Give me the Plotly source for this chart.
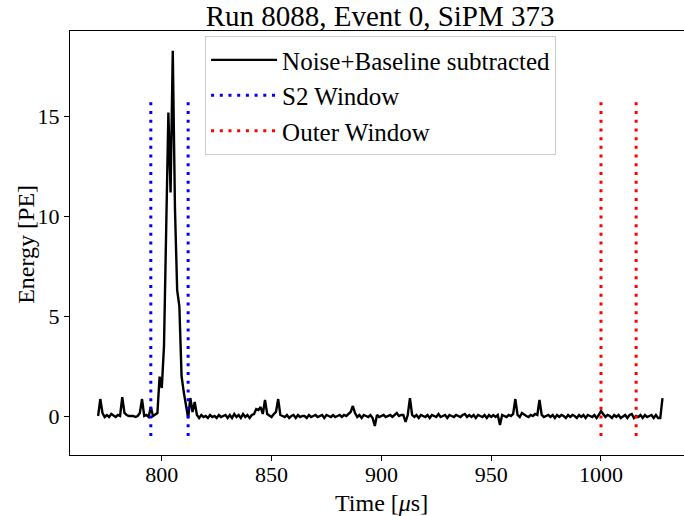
import plotly.graph_objects as go

# Sampling: one sample per microsecond
t_start_us = 771
t_stop_us = 1028

# Noise+baseline subtracted waveform [PE], one value per sample
energy_pe = [
    0.0, 0.85, 0.15, -0.05, 0.05, -0.05, 0.1, 0.0, -0.05, 0.05,        # 771-780
    0.0, 0.95, 0.15, 0.05, 0.0, 0.0, 0.0, -0.05, 0.0, 0.15,            # 781-790
    0.85, 0.0, 0.05, -0.05, 0.45, 0.0, 0.1, 0.15, 1.97, 1.4,           # 791-800
    3.5, 9.0, 15.2, 11.2, 18.3, 10.4, 6.3, 5.5, 2.0, 1.2,              # 801-810
    0.5, -0.1, 0.9, 0.2, 0.7, 0.05, -0.1, 0.05, -0.05, 0.0,            # 811-820
    -0.1, 0.05, -0.05, 0.0, -0.1, 0.05, -0.05, 0.0, 0.05, -0.1,        # 821-830
    0.05, -0.1, 0.1, -0.05, 0.05, -0.1, 0.1, -0.05, 0.05, -0.1,        # 831-840
    0.05, 0.1, 0.35, 0.3, 0.45, 0.1, 0.8, 0.1, 0.0, -0.05,             # 841-850
    0.1, 0.2, 0.85, 0.05, 0.0, -0.05, 0.05, -0.1, 0.0, 0.05,           # 851-860
    -0.1, 0.05, -0.05, 0.0, 0.0, -0.1, 0.05, -0.05, 0.0, 0.05,         # 861-870
    -0.05, 0.0, 0.05, -0.1, 0.05, 0.0, -0.05, 0.05, -0.05, 0.0,        # 871-880
    0.05, -0.05, 0.05, 0.0, 0.1, 0.2, 0.5, 0.15, -0.05, 0.05,          # 881-890
    -0.1, 0.05, 0.0, -0.05, 0.05, -0.1, -0.5, 0.05, -0.05, 0.0,        # 891-900
    0.05, -0.05, 0.0, 0.05, -0.05, 0.05, 0.15, 0.0, 0.05, 0.05,        # 901-910
    -0.3, 0.05, 0.9, 0.05, -0.05, 0.05, -0.1, 0.05, 0.0, -0.05,        # 911-920
    0.05, -0.1, 0.05, 0.0, -0.05, 0.1, -0.05, 0.0, 0.05, -0.1,         # 921-930
    0.05, 0.0, -0.05, 0.05, 0.0, -0.05, 0.05, 0.1, -0.05, 0.05,        # 931-940
    -0.05, 0.05, -0.1, 0.05, 0.0, -0.05, 0.05, -0.1, 0.05, -0.05,      # 941-950
    0.05, -0.05, 0.05, -0.45, 0.05, 0.0, -0.05, 0.05, 0.0, 0.1,        # 951-960
    0.85, 0.05, -0.05, 0.15, 0.05, 0.0, -0.05, 0.05, 0.0, 0.1,         # 961-970
    0.05, 0.8, 0.05, -0.05, 0.0, 0.05, -0.05, 0.05, -0.1, 0.05,        # 971-980
    -0.05, 0.05, 0.0, -0.1, 0.05, -0.05, 0.05, 0.0, -0.1, 0.05,        # 981-990
    -0.05, 0.05, -0.1, 0.05, 0.0, -0.05, 0.05, -0.1, 0.05, 0.25,       # 991-1000
    0.1, -0.05, 0.05, 0.0, -0.1, 0.05, -0.05, 0.05, -0.1, 0.0,         # 1001-1010
    0.05, -0.1, 0.05, 0.1, -0.1, 0.0, -0.05, 0.05, -0.1, 0.05,         # 1011-1020
    -0.05, 0.0, 0.05, -0.1, 0.05, -0.1, -0.1, 0.9,                     # 1021-1028
]
time_us = list(range(t_start_us, t_stop_us + 1))

# Integration windows [us] and the vertical extent of their markers [PE]
s2_window = [795, 812]
outer_window = [1000, 1016]
window_span = [-1, 16]

x_ticks = [800, 850, 900, 950, 1000]
y_ticks = [0, 5, 10, 15]

SERIF = "Liberation Serif"


def window_lines(edges):
    xs, ys = [], []
    for e in edges:
        xs += [e, e, None]
        ys += [window_span[0], window_span[1], None]
    return xs, ys


fig = go.Figure()
fig.add_trace(go.Scatter(
    x=time_us, y=energy_pe, mode="lines",
    line=dict(color="black", width=2.4),
    name="Noise+Baseline subtracted", legendgroup="a",
))
sx, sy = window_lines(s2_window)
fig.add_trace(go.Scatter(
    x=sx, y=sy, mode="lines",
    line=dict(color="#0000ff", width=3, dash="3px,5.7px"),
    name="S2 Window", legendgroup="b",
))
ox, oy = window_lines(outer_window)
fig.add_trace(go.Scatter(
    x=ox, y=oy, mode="lines",
    line=dict(color="#ff0000", width=3, dash="3px,5.7px"),
    name="Outer Window", legendgroup="c",
))

fig.update_layout(
    width=684, height=516,
    margin=dict(l=70, r=0, t=31, b=61),
    paper_bgcolor="white", plot_bgcolor="white",
    font=dict(family=SERIF, size=22, color="black"),
    title=dict(
        text="Run 8088, Event 0, SiPM 373",
        font=dict(family=SERIF, size=29, color="black"),
        x=0.505, xref="paper", xanchor="center",
        y=1 - 16 / 516, yref="container", yanchor="middle",
    ),
    legend=dict(
        x=0.22, y=0.988, xanchor="left", yanchor="top",
        bgcolor="white", bordercolor="#cccccc", borderwidth=1,
        font=dict(family=SERIF, size=25, color="black"),
        tracegroupgap=0, itemwidth=66,
    ),
    showlegend=True,
    annotations=[
        dict(text="Time [<i>μ</i>s]", xref="paper", yref="paper",
             x=0.507, y=-0.1132, xanchor="center", yanchor="middle",
             showarrow=False, font=dict(family=SERIF, size=24)),
        dict(text="Energy [PE]", xref="paper", yref="paper",
             x=-0.072, y=0.4976, xanchor="center", yanchor="middle",
             textangle=-90, showarrow=False, font=dict(family=SERIF, size=24)),
    ],
)
fig.update_xaxes(
    range=[758.2, 1037.8], tickvals=x_ticks,
    ticks="outside", ticklen=5, tickwidth=1, tickcolor="black",
    showline=True, linecolor="black", linewidth=1, mirror=True,
    showgrid=False, zeroline=False, ticklabelstandoff=-5,
    tickfont=dict(family=SERIF, size=22),
)
fig.update_yaxes(
    range=[-1.954, 19.29], tickvals=y_ticks,
    ticks="outside", ticklen=5, tickwidth=1, tickcolor="black",
    showline=True, linecolor="black", linewidth=1, mirror=False,
    showgrid=False, zeroline=False,
    tickfont=dict(family=SERIF, size=22),
)

fig.write_html("out.html")
